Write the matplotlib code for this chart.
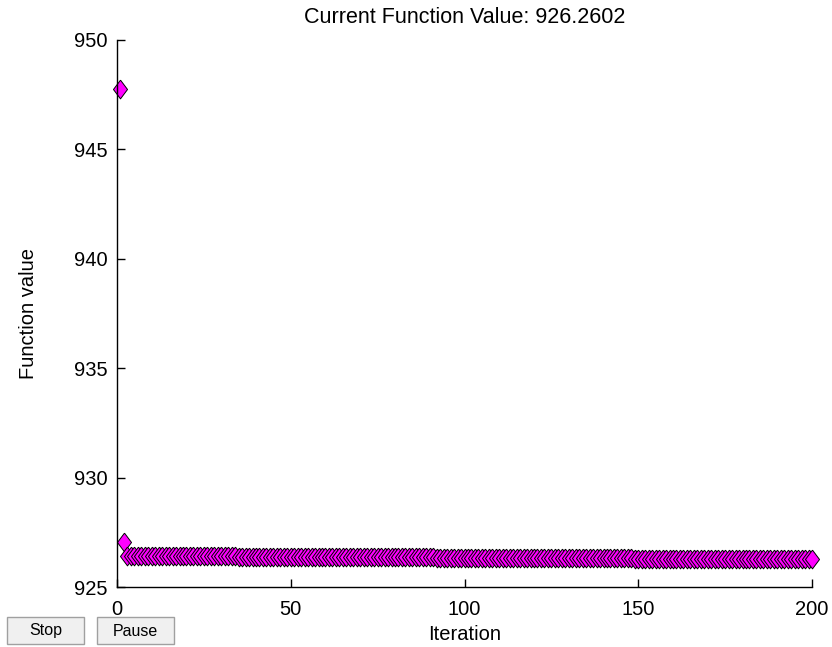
import numpy as np
import matplotlib
matplotlib.use("Agg")
import matplotlib.pyplot as plt
from matplotlib.patches import Rectangle

plt.rcParams['font.family'] = ['Liberation Sans', 'DejaVu Sans']

# Iteration numbers and function values
iterations = list(range(1, 201))
fvals = [
    947.780, 927.070, 926.420, 926.419, 926.418, 926.418, 926.417, 926.416, 926.415, 926.414,
    926.414, 926.413, 926.412, 926.411, 926.410, 926.410, 926.409, 926.408, 926.407, 926.406,
    926.406, 926.405, 926.404, 926.403, 926.402, 926.402, 926.401, 926.400, 926.399, 926.398,
    926.398, 926.397, 926.396, 926.395, 926.394, 926.394, 926.393, 926.392, 926.391, 926.390,
    926.390, 926.389, 926.388, 926.387, 926.386, 926.386, 926.385, 926.384, 926.383, 926.382,
    926.382, 926.381, 926.380, 926.379, 926.378, 926.378, 926.377, 926.376, 926.375, 926.374,
    926.374, 926.373, 926.372, 926.371, 926.370, 926.370, 926.369, 926.368, 926.367, 926.366,
    926.366, 926.365, 926.364, 926.363, 926.362, 926.362, 926.361, 926.360, 926.359, 926.358,
    926.358, 926.357, 926.356, 926.355, 926.354, 926.354, 926.353, 926.352, 926.351, 926.350,
    926.350, 926.349, 926.348, 926.347, 926.346, 926.346, 926.345, 926.344, 926.343, 926.342,
    926.342, 926.341, 926.340, 926.339, 926.338, 926.338, 926.337, 926.336, 926.335, 926.334,
    926.334, 926.333, 926.332, 926.331, 926.330, 926.330, 926.329, 926.328, 926.327, 926.326,
    926.326, 926.325, 926.324, 926.323, 926.322, 926.322, 926.321, 926.320, 926.319, 926.318,
    926.318, 926.317, 926.316, 926.315, 926.314, 926.314, 926.313, 926.312, 926.311, 926.310,
    926.310, 926.309, 926.308, 926.307, 926.306, 926.306, 926.305, 926.304, 926.303, 926.302,
    926.302, 926.301, 926.300, 926.299, 926.298, 926.298, 926.297, 926.296, 926.295, 926.294,
    926.294, 926.293, 926.292, 926.291, 926.290, 926.290, 926.289, 926.288, 926.287, 926.286,
    926.286, 926.285, 926.284, 926.283, 926.282, 926.282, 926.281, 926.280, 926.279, 926.278,
    926.278, 926.277, 926.276, 926.275, 926.274, 926.274, 926.273, 926.272, 926.271, 926.270,
    926.270, 926.269, 926.268, 926.267, 926.266, 926.266, 926.265, 926.264, 926.263, 926.2602,
]
xticks = [0, 50, 100, 150, 200]
yticks = [925, 930, 935, 940, 945, 950]
title = "Current Function Value: 926.2602"
buttons = ["Stop", "Pause"]

fig = plt.figure(figsize=(8.32, 6.47), dpi=100)
ax = fig.add_axes([0.1406, 0.0927, 0.8354, 0.8455])

# MATLAB style diamond, a bit taller than wide
diamond = [(0, 1), (0.75, 0), (0, -1), (-0.75, 0), (0, 1)]
ax.plot(iterations, fvals, linestyle='none', marker=diamond, markersize=13.5,
        markerfacecolor=(1, 0, 1), markeredgecolor='black', markeredgewidth=0.7,
        clip_on=False)

ax.set_xlim(0, 200)
ax.set_ylim(925, 950)
ax.set_xticks(xticks)
ax.set_yticks(yticks)
ax.spines['top'].set_visible(False)
ax.spines['right'].set_visible(False)
for s in ['left', 'bottom']:
    ax.spines[s].set_linewidth(1.0)
ax.tick_params(direction='in', length=6, width=1, labelsize=14.5)
ax.tick_params(axis='x', pad=9)
ax.tick_params(axis='y', pad=7)
ax.set_xlabel("Iteration", fontsize=14.5, labelpad=5)
ax.set_ylabel("Function value", fontsize=14.5, labelpad=26)
ax.set_title(title, fontsize=15.5, pad=12)

# Stop / Pause buttons under the axes
W, H = 832, 647
for i, label in enumerate(buttons):
    x0 = 7 + i * 90
    w = 77
    rect = Rectangle((x0 / W, 3 / H), w / W, 27 / H, transform=fig.transFigure,
                     facecolor='#f0f0f0', edgecolor='#a0a0a0', linewidth=1)
    fig.patches.append(rect)
    fig.text((x0 + w / 2) / W, 16 / H, label, ha='center', va='center', fontsize=11.5)

fig.savefig("out.png", dpi=100)
